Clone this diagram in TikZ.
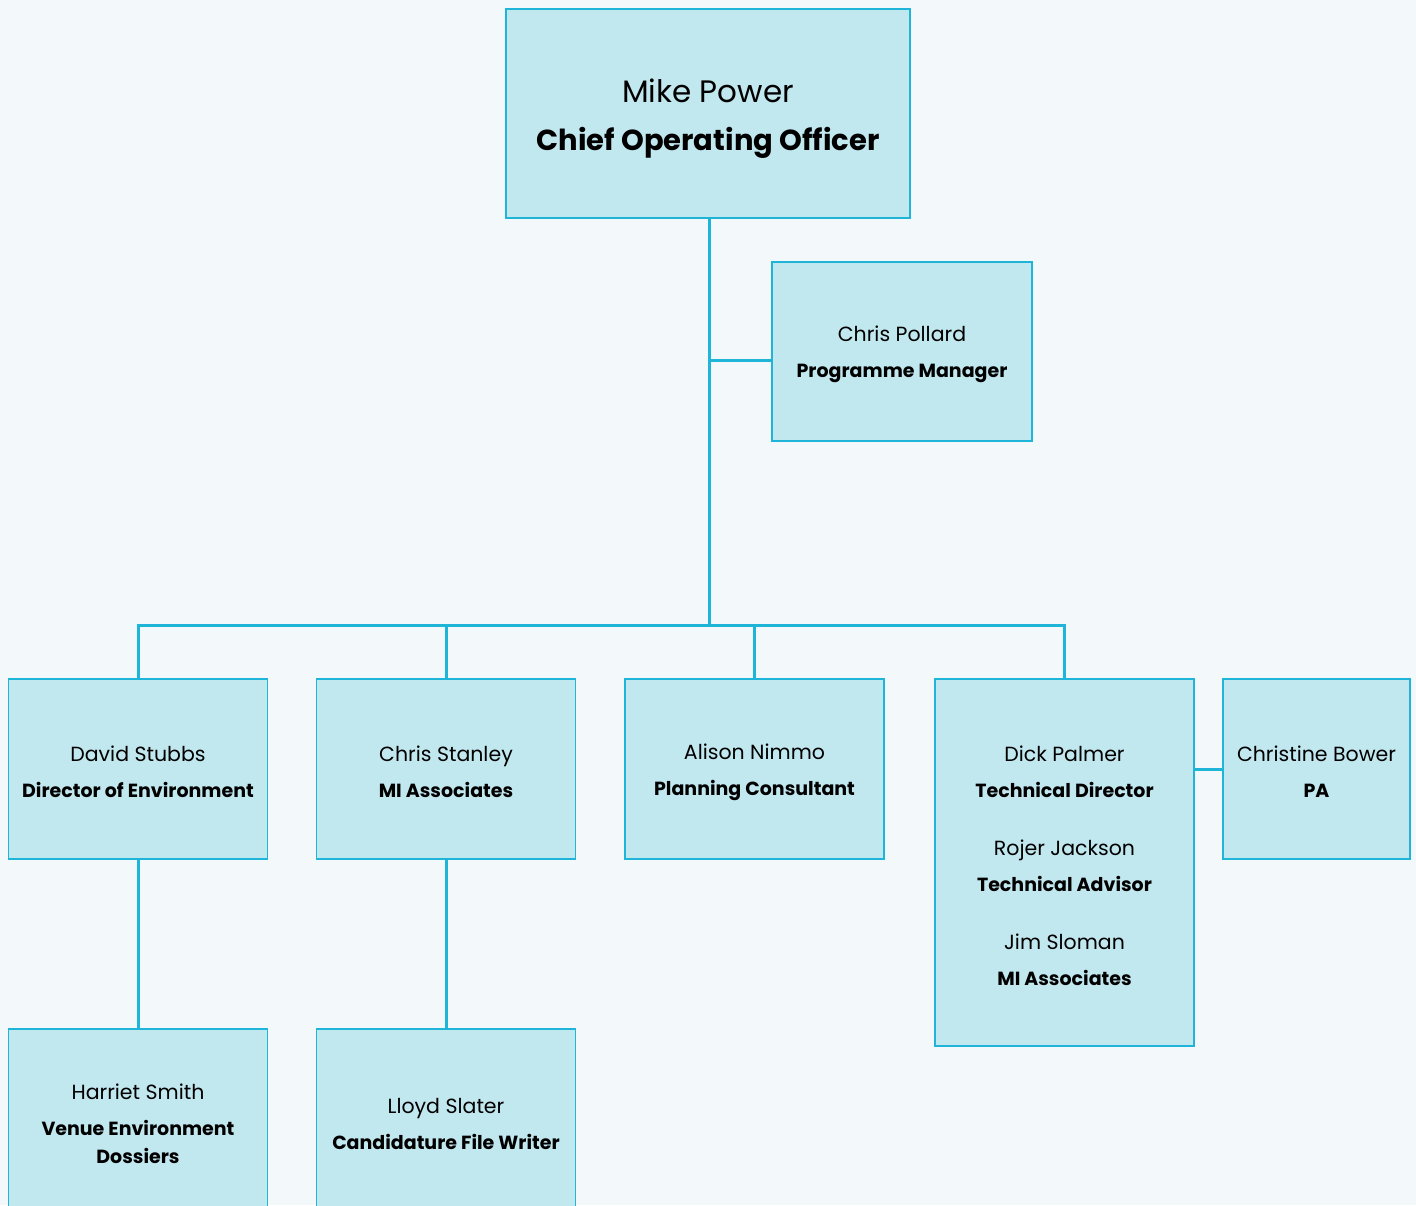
\documentclass[tikz,border=0pt]{standalone}
\usepackage{fontspec}
\setmainfont{Poppins}
\definecolor{boxfill}{HTML}{C1E7EF}
\definecolor{boxline}{HTML}{1EB5D9}
\definecolor{bg}{HTML}{F3F8FB}
\newcommand{\nmf}{\fontsize{20.5}{36}\selectfont}
\begin{document}
\begin{tikzpicture}[x=1pt,y=-1pt,
  box/.style={draw=boxline, line width=1.5pt, fill=boxfill, inner sep=0pt,
    minimum width=259pt, minimum height=180pt},
  lbl/.style={align=center, font=\fontsize{19}{36}\selectfont, yshift=-3pt},
  link/.style={draw=boxline, line width=3pt}]
\fill[bg] (0,0) rectangle (1416,1205);
\useasboundingbox (0,0) rectangle (1416,1205);
\coordinate (bus) at (709,625);
\node[box, minimum width=404pt, minimum height=209pt,
  label={[align=center, font=\fontsize{29}{48}\selectfont, yshift=-5pt]center:{\fontsize{31}{48}\selectfont Mike Power}\\\textbf{Chief Operating Officer}}] (coo) at (708,113.5) {};
\node[box, minimum width=260pt, minimum height=179pt,
  label={[lbl]center:{\nmf Chris Pollard}\\\textbf{Programme Manager}}] (pm) at (902,351.5) {};
\node[box, label={[lbl]center:{\nmf David Stubbs}\\\textbf{Director of Environment}}] (ds) at (138,769) {};
\node[box, label={[lbl]center:{\nmf Chris Stanley}\\\textbf{MI Associates}}] (cs) at (446,769) {};
\node[box, label={[lbl]center:{\nmf Alison Nimmo}\\\textbf{Planning Consultant}}] (an) at (754.5,769) {};
\node[box, minimum height=367pt,
  label={[lbl]center:{\nmf Dick Palmer}\\\textbf{Technical Director}\\[22pt]{\nmf Rojer Jackson}\\\textbf{Technical Advisor}\\[22pt]{\nmf Jim Sloman}\\\textbf{MI Associates}}] (dp) at (1064.5,862.5) {};
\node[box, minimum width=187pt, label={[lbl]center:{\nmf Christine Bower}\\\textbf{PA}}] (cb) at (1316.5,769) {};
\node[box, minimum height=184pt,
  label={[lbl]center:{\nmf Harriet Smith}\\\textbf{Venue Environment}\\[-8pt]\textbf{Dossiers}}] (hs) at (138,1121) {};
\node[box, minimum height=184pt,
  label={[lbl]center:{\nmf Lloyd Slater}\\\textbf{Candidature File Writer}}] (ls) at (446,1121) {};
\draw[link] (coo.south -| bus) -- (bus);
\draw[link] ([yshift=-8.5pt]pm.west) coordinate (pmc) -- (pmc -| bus);
\draw[link] (ds.north) |- (bus) -| (dp.north);
\draw[link] (cs.north) -- (cs.north |- bus);
\draw[link] (an.north) -- (an.north |- bus);
\draw[link] (ds.south) -- (hs.north);
\draw[link] (cs.south) -- (ls.north);
\draw[link] (cb.west) -- (cb.west -| dp.east);
\end{tikzpicture}
\end{document}
